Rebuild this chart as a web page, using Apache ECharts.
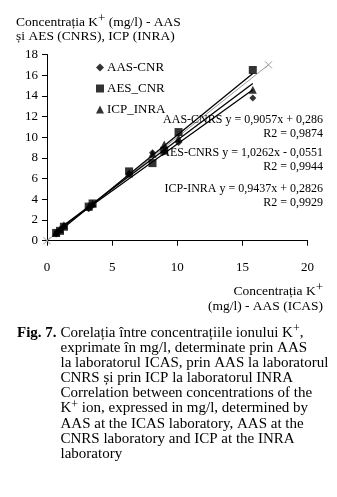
<!DOCTYPE html>
<html>
<head>
<meta charset="utf-8">
<script src="https://cdn.jsdelivr.net/npm/echarts@6/dist/echarts.min.js"></script>
<style>
  html, body { margin: 0; padding: 0; background: #fff; }
  #chart { width: 337px; height: 497px; }
</style>
</head>
<body>
<div id="chart"></div>
<script>
// K+ concentration (mg/l) measured by AAS at ICAS (x) vs. the other laboratories (y)
const icas    = [0.7, 1.0, 1.3, 3.2, 3.5, 6.3, 8.1, 9.0, 10.1, 15.8];
const aasCnrs = [0.65, 1.0, 1.4, 3.1, 3.4, 6.5, 8.5, 8.6, 9.5, 13.8];
const aesCnrs = [0.75, 0.95, 1.35, 3.3, 3.6, 6.7, 7.5, 8.7, 10.5, 16.5];
const icpInra = [0.8, 1.1, 1.5, 3.3, 3.6, 6.5, 8.4, 9.3, 9.9, 14.6];

const seriesNames = ['AAS-CNR', 'AES_CNR', 'ICP_INRA'];
const fitNames    = ['AAS-CNRS', 'AES-CNRS', 'ICP-INRA'];
const fitSlopes   = [0.9057, 1.0262, 0.9437];
const fitOffsets  = [0.286, -0.0551, 0.2826];
const fitR2       = ['0,9874', '0,9944', '0,9929'];
const fitText     = ['y = 0,9057x + 0,286', 'y = 1,0262x - 0,0551', 'y = 0,9437x + 0,2826'];
const identityEnds = [0, 17];

const xTicks = [0, 5, 10, 15, 20];
const yTicks = [0, 2, 4, 6, 8, 10, 12, 14, 16, 18];

const serif = '"Liberation Serif", "DejaVu Serif", serif';

const pairs = ys => icas.map((x, i) => [x, ys[i]]);
const xMin = Math.min.apply(null, icas) - 0.15;
const xMax = Math.max.apply(null, icas);
const fitLine = i => [
  [xMin, fitSlopes[i] * xMin + fitOffsets[i]],
  [xMax, fitSlopes[i] * xMax + fitOffsets[i]]
];

// raised "+" inside a taller line box
function supStyle(size) {
  return { sup: { fontSize: size, fontFamily: serif, verticalAlign: 'top', lineHeight: size - 2, fill: '#000' } };
}

function txt(x, y, text, opts) {
  opts = opts || {};
  return {
    type: 'text', x: x, y: y, silent: true, z: 100,
    style: Object.assign({
      text: text,
      fill: '#000',
      fontFamily: serif,
      fontSize: 13,
      lineHeight: 20,
      textAlign: 'left',
      verticalAlign: 'middle',
      rich: supStyle(13)
    }, opts)
  };
}

const graphics = [
  // y axis title
  txt(16, 22, 'Concentrația K{sup|+} (mg/l) - AAS', { fontSize: 13.5 }),
  txt(16, 36, 'și AES (CNRS), ICP (INRA)', { fontSize: 13.5 }),
  // x axis title
  txt(323, 291, 'Concentrația K{sup|+}', { textAlign: 'right', fontSize: 13.5 }),
  txt(323, 306, '(mg/l) - AAS (ICAS)', { textAlign: 'right', fontSize: 13.5 })
];

// regression equations
const eqY = [[120, 134], [153, 167], [189, 203]];
fitNames.forEach((n, i) => {
  graphics.push(txt(323, eqY[i][0], n + ' ' + fitText[i], { textAlign: 'right', fontSize: 12, lineHeight: 14 }));
  graphics.push(txt(323, eqY[i][1], 'R2 = ' + fitR2[i], { textAlign: 'right', fontSize: 12, lineHeight: 14 }));
});

// caption
const captionLines = [
  'Corelația între concentrațiile ionului K{sup|+},',
  'exprimate în mg/l, determinate prin AAS',
  'la laboratorul ICAS, prin AAS la laboratorul',
  'CNRS și prin ICP la laboratorul INRA',
  'Correlation between concentrations of the',
  'K{sup|+} ion, expressed in mg/l, determined by',
  'AAS at the ICAS laboratory, AAS at the',
  'CNRS laboratory and ICP at the INRA',
  'laboratory'
];
graphics.push(txt(17, 333, 'Fig. 7.', { fontSize: 15, fontWeight: 'bold', lineHeight: 18 }));
captionLines.forEach((l, i) => {
  graphics.push(txt(60.5, 333 + i * 15.1, l, {
    fontSize: 15, lineHeight: 20, rich: supStyle(12)
  }));
});

const blackAxis = { lineStyle: { color: '#000', width: 1 } };

const chart = echarts.init(document.getElementById('chart'), null, { renderer: 'canvas' });
chart.setOption({
  animation: false,
  backgroundColor: '#fff',
  grid: { left: 47, top: 54.5, width: 260.5, height: 186.2 },
  legend: {
    orient: 'vertical',
    left: 91,
    top: 56,
    itemWidth: 8,
    itemHeight: 8,
    itemGap: 8,
    data: [
      { name: seriesNames[0], icon: 'diamond' },
      { name: seriesNames[1], icon: 'rect' },
      { name: seriesNames[2], icon: 'triangle' }
    ],
    textStyle: { fontFamily: serif, fontSize: 13, color: '#000', lineHeight: 13, padding: [0, 0, 0, -2] }
  },
  xAxis: {
    type: 'value', min: xTicks[0], max: xTicks[xTicks.length - 1], interval: 5,
    axisLine: blackAxis,
    axisTick: { show: true, length: 5, inside: false, lineStyle: { color: '#000' } },
    axisLabel: { color: '#000', fontFamily: serif, fontSize: 13, margin: 20 },
    splitLine: { show: false }
  },
  yAxis: {
    type: 'value', min: yTicks[0], max: yTicks[yTicks.length - 1], interval: 2,
    axisLine: { show: true, lineStyle: { color: '#000', width: 1 } },
    axisTick: { show: true, length: 5, inside: false, lineStyle: { color: '#000' } },
    axisLabel: { color: '#000', fontFamily: serif, fontSize: 13, margin: 9 },
    splitLine: { show: false }
  },
  series: [
    {
      name: 'identity', type: 'line',
      data: identityEnds.map(v => [v, v]),
      symbol: 'path://M0 0L10 10M10 0L0 10', symbolSize: 7,
      lineStyle: { color: '#9a9a9a', width: 1 },
      itemStyle: { color: '#9a9a9a', borderColor: '#9a9a9a', borderWidth: 1 },
      z: 1
    },
    ...fitNames.map((n, i) => ({
      name: n + ' fit', type: 'line', data: fitLine(i), symbol: 'none',
      lineStyle: { color: '#000', width: 1.3 }, z: 2
    })),
    { name: seriesNames[0], type: 'scatter', data: pairs(aasCnrs), symbol: 'diamond', symbolSize: 7, itemStyle: { color: '#000' }, z: 3 },
    { name: seriesNames[1], type: 'scatter', data: pairs(aesCnrs), symbol: 'rect', symbolSize: 8, itemStyle: { color: '#000' }, z: 3 },
    { name: seriesNames[2], type: 'scatter', data: pairs(icpInra), symbol: 'triangle', symbolSize: 8, itemStyle: { color: '#000' }, z: 3 }
  ],
  graphic: graphics
});
</script>
</body>
</html>
